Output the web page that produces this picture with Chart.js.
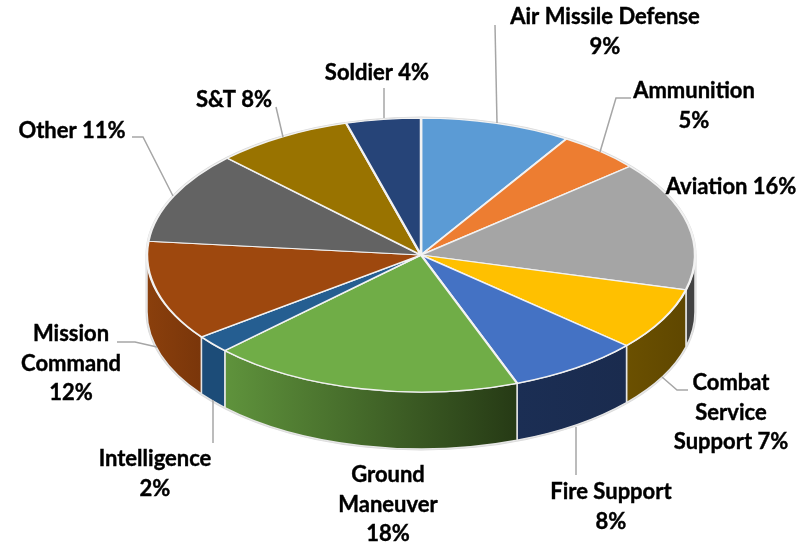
<!DOCTYPE html>
<html>
<head>
<meta charset="utf-8">
<title>Pie</title>
<script src="https://cdn.jsdelivr.net/npm/chart.js@4"></script>
<style>
  html, body { margin: 0; padding: 0; background: #fff; }
  #wrap { position: relative; width: 811px; height: 543px; }
</style>
</head>
<body>
<div id="wrap"><canvas id="chartPie" width="811" height="543"></canvas></div>
<script>
// slices, clockwise from 12 o'clock
const categories = ['Air Missile Defense', 'Ammunition', 'Aviation', 'Combat\nService\nSupport', 'Fire Support',
    'Ground\nManeuver', 'Intelligence', 'Mission\nCommand', 'Other', 'S&T', 'Soldier'];
// sweep of each slice as measured on the ellipse
const sliceValues = [8.9, 4.9, 15.3, 7.4, 7.8, 18.4, 2.1, 11.8, 10.9, 8.1, 4.4];
// percentages as printed
const printedPercent = [9, 5, 16, 7, 8, 18, 2, 12, 11, 8, 4];
const percentJoin = ['\n', '\n', ' ', ' ', '\n', '\n', '\n', '\n', ' ', ' ', ' '];

const topColors = ['#5b9bd5', '#ed7d31', '#a5a5a5', '#ffc000', '#4472c4', '#70ad47', '#255e91', '#9e480e', '#636363', '#997300', '#264478'];
const wallColors = [null, null, ['#424242', '#424242'], ['#6b5000', '#5f4700'], ['#1b2e54', '#1a2b4e'],
    ['#5f933c', '#263a15'], ['#1c4c78', '#1c4c78'], ['#8a3f0c', '#7a360a'], null, null, null];

// centre of each printed label block
const labelPos = [[605, 17], [694, 91], [731, 187], [731, 383], [611, 492], [388, 475], [155, 459], [71, 334], [72, 131], [234, 100], [377, 73]];
const leaders = [
    [[495, 25], [497, 123]],
    [[631, 98], [616, 98], [600, 152]],
    null,
    [[688, 390], [677, 390], [662, 377]],
    [[576, 475], [576, 427]],
    null,
    [[213, 443], [213, 400]],
    [[117, 342], [135, 342], [157, 347]],
    [[132, 137], [143, 137], [173, 196]],
    [[276, 107], [283, 137]],
    [[384, 88], [384, 118]]
];

const CX = 421, CY = 255, RX = 274, TILT = 0.5, DEPTH = 57;

const pie3d = {
    id: 'pie3d',
    beforeDatasetsDraw(chart) {
        const ctx = chart.ctx;
        const arcs = chart.getDatasetMeta(0).data;

        // rim behind everything, follows the outline of the solid
        ctx.save();
        ctx.beginPath();
        ctx.ellipse(CX, CY, RX + 1.5, RX * TILT + 1.5, 0, Math.PI, 0);
        ctx.lineTo(CX + RX + 1.5, CY + DEPTH);
        ctx.ellipse(CX, CY + DEPTH, RX + 1.5, RX * TILT + 1.5, 0, 0, Math.PI);
        ctx.closePath();
        ctx.fillStyle = '#d9d9d9';
        ctx.fill();
        ctx.restore();

        // side walls of the slices that face the viewer
        arcs.forEach(function(arc, i) {
            const p = arc.getProps(['startAngle', 'endAngle', 'outerRadius']);
            const a0 = Math.max(p.startAngle, 0);
            const a1 = Math.min(p.endAngle, Math.PI);
            if (a1 <= a0 || !wallColors[i]) return;
            const r = p.outerRadius;
            const x0 = CX + r * Math.cos(a0), x1 = CX + r * Math.cos(a1);
            const grad = ctx.createLinearGradient(x1, 0, x0, 0);
            grad.addColorStop(0, wallColors[i][0]);
            grad.addColorStop(1, wallColors[i][1]);
            ctx.save();
            ctx.beginPath();
            ctx.ellipse(CX, CY, r, r * TILT, 0, a0, a1);
            ctx.ellipse(CX, CY + DEPTH, r, r * TILT, 0, a1, a0, true);
            ctx.closePath();
            ctx.fillStyle = grad;
            ctx.fill();
            ctx.strokeStyle = '#e6e6e6';
            ctx.lineWidth = 1.5;
            ctx.stroke();
            ctx.restore();
        });

        // squash the library's own arcs into the tilted top face
        const first = arcs[0];
        ctx.save();
        ctx.translate(CX, CY);
        ctx.scale(1, TILT);
        ctx.translate(-first.x, -first.y);
    },
    afterDatasetsDraw(chart) {
        const ctx = chart.ctx;
        ctx.restore();

        // leader lines
        ctx.save();
        ctx.strokeStyle = '#a6a6a6';
        ctx.lineWidth = 1.5;
        leaders.forEach(function(pts) {
            if (!pts) return;
            ctx.beginPath();
            pts.forEach(function(pt, k) {
                if (k === 0) ctx.moveTo(pt[0], pt[1]);
                else ctx.lineTo(pt[0], pt[1]);
            });
            ctx.stroke();
        });

        // labels, thin stroke to get the weight of the original font
        ctx.fillStyle = '#000';
        ctx.strokeStyle = '#000';
        ctx.lineWidth = 0.4;
        ctx.font = 'bold 22px Lato, sans-serif';
        ctx.textAlign = 'center';
        ctx.textBaseline = 'middle';
        categories.forEach(function(name, i) {
            const lines = (name + percentJoin[i] + printedPercent[i] + '%').split('\n');
            lines.forEach(function(line, k) {
                ctx.fillText(line, labelPos[i][0], labelPos[i][1] + k * 29.7);
                ctx.strokeText(line, labelPos[i][0], labelPos[i][1] + k * 29.7);
            });
        });
        ctx.restore();
    }
};

new Chart(document.getElementById('chartPie'), {
    type: 'pie',
    data: {
        labels: categories,
        datasets: [{
            data: sliceValues,
            backgroundColor: topColors,
            borderColor: '#f2f2f2',
            borderWidth: 2.5,
            radius: RX
        }]
    },
    options: {
        responsive: false,
        animation: false,
        layout: { padding: 0 },
        plugins: { legend: { display: false }, tooltip: { enabled: false } }
    },
    plugins: [pie3d]
});
</script>
</body>
</html>
